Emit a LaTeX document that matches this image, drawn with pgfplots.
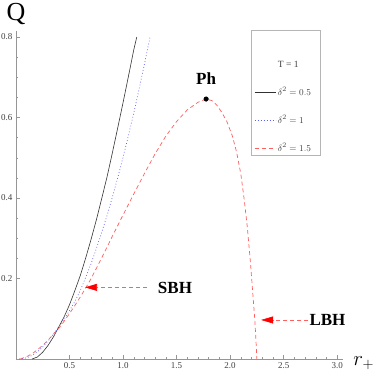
\documentclass[border=0pt]{standalone}
\usepackage{fontspec}
\setmainfont{Liberation Serif}
\usepackage{pgfplots}
\pgfplotsset{compat=1.18}
\usetikzlibrary{arrows.meta}
\definecolor{cblk}{RGB}{50,50,50}
\definecolor{cblu}{RGB}{95,95,255}
\definecolor{cred}{RGB}{255,95,95}
\definecolor{axgray}{RGB}{150,150,150}

\begin{document}
\begin{tikzpicture}
\begin{axis}[
  scale only axis, width=326.5pt, height=328pt,
  xmin=0, xmax=3.05, ymin=0, ymax=0.815,
  axis lines=left, axis line style={-, axgray, line width=0.5pt},
  xtick={0.5,1,...,3}, ytick={0.2,0.4,0.6,0.8},
  minor x tick num=4, minor y tick num=3,
  tick align=inside, major tick length=4pt, minor tick length=2.2pt,
  tick style={axgray, line width=0.4pt},
  tick label style={font=\fontsize{9}{10}\selectfont, text=black!75},
  /pgf/number format/assume math mode=true,
  xticklabel style={/pgf/number format/.cd, fixed, fixed zerofill, precision=1},
  yticklabel style={/pgf/number format/.cd, fixed, fixed zerofill, precision=1},
  clip=false,
  legend style={at={(0.72,1.003)}, anchor=north west, draw=axgray!70, fill=white,
    font=\fontsize{9.5}{10}\selectfont, text=black!75,
    nodes={inner sep=1pt, text height=7pt, text depth=2pt},
    row sep=17pt, column sep=1pt, inner xsep=3pt, inner ysep=1pt},
  legend cell align=left,
  legend image code/.code={\draw[#1] (0pt,0pt) -- (21pt,0pt);},
]
\addlegendimage{empty legend}
\addlegendentry{}
\addlegendimage{empty legend}
\addlegendentry{T = 1}

% delta^2 = 0.5
\addplot[cblk, line width=0.6pt] coordinates {
(0.15,0) (0.2,0.005) (0.25,0.017) (0.3,0.034) (0.35,0.055) (0.4,0.08)
(0.45,0.105) (0.5,0.135) (0.55,0.170) (0.6,0.207) (0.65,0.25) (0.7,0.296)
(0.75,0.345) (0.8,0.398) (0.85,0.452) (0.9,0.512) (0.95,0.574) (1.0,0.637)
(1.05,0.702) (1.1,0.768) (1.128,0.80)
};
\addlegendentry{\makebox[38pt][l]{$\delta^2=0.5$}}

% delta^2 = 1
\addplot[cblu, line width=0.7pt, dash pattern=on 0.8pt off 2.2pt] coordinates {
(0.03,0) (0.1,0.003) (0.15,0.009) (0.2,0.018) (0.25,0.03) (0.3,0.045)
(0.35,0.062) (0.4,0.08) (0.45,0.099) (0.5,0.12) (0.55,0.143) (0.6,0.17)
(0.65,0.202) (0.7,0.236) (0.75,0.274) (0.8,0.314) (0.85,0.356) (0.9,0.402)
(0.95,0.45) (1.0,0.501) (1.05,0.555) (1.1,0.611) (1.15,0.671) (1.2,0.733)
(1.252,0.80)
};
\addlegendentry{\makebox[38pt][l]{$\delta^2=1$}}

% delta^2 = 1.5
\addplot[cred, line width=0.7pt, dash pattern=on 4pt off 3pt] coordinates {
(0.04,0) (0.1,0.006) (0.15,0.013) (0.2,0.023) (0.25,0.034) (0.3,0.047)
(0.35,0.062) (0.4,0.076) (0.45,0.094) (0.5,0.113) (0.55,0.133) (0.6,0.154)
(0.65,0.176) (0.7,0.199) (0.8,0.251) (0.9,0.305) (1.0,0.358) (1.1,0.41)
(1.2,0.461) (1.3,0.51) (1.4,0.554) (1.5,0.59) (1.6,0.619) (1.7,0.638)
(1.776,0.646) (1.83,0.642) (1.875,0.631) (1.92,0.614) (1.97,0.59)
(2.02,0.555) (2.06,0.515) (2.10,0.46) (2.13,0.40) (2.16,0.33) (2.19,0.24)
(2.21,0.17) (2.23,0.10) (2.24,0.055) (2.25,0)
};
\addlegendentry{\makebox[38pt][l]{$\delta^2=1.5$}}

% phase transition point
\addplot[only marks, mark=*, mark size=2.3pt, black, forget plot] coordinates {(1.776,0.646)};

\node[font=\bfseries\fontsize{17}{17}\selectfont, anchor=base] at (axis cs:1.776,0.681) {Ph};
\node[font=\bfseries\fontsize{17}{17}\selectfont, anchor=base] at (axis cs:1.485,0.164) {SBH};
\node[font=\bfseries\fontsize{17}{17}\selectfont, anchor=base] at (axis cs:2.91,0.083) {LBH};
\draw[draw=cred, line width=0.6pt, dash pattern=on 4pt off 3pt,
  -{Triangle[length=12pt,width=7pt,color=red,fill=red]}]
  (axis cs:1.224,0.178) -- (axis cs:0.645,0.178);
\draw[draw=cred, line width=0.6pt, dash pattern=on 4pt off 3pt,
  -{Triangle[length=12pt,width=7pt,color=red,fill=red]}]
  (axis cs:2.73,0.097) -- (axis cs:2.29,0.097);

\node[font=\fontsize{26}{26}\selectfont] at (axis cs:0,0.857) {Q};
\node[font=\fontsize{22}{22}\selectfont, anchor=base west, inner sep=0pt] at (axis cs:3.15,-0.015) {$r_+$};
\end{axis}
\pgfresetboundingbox
\path (-16pt,-14pt) rectangle (358pt,359pt);
\end{tikzpicture}
\end{document}
